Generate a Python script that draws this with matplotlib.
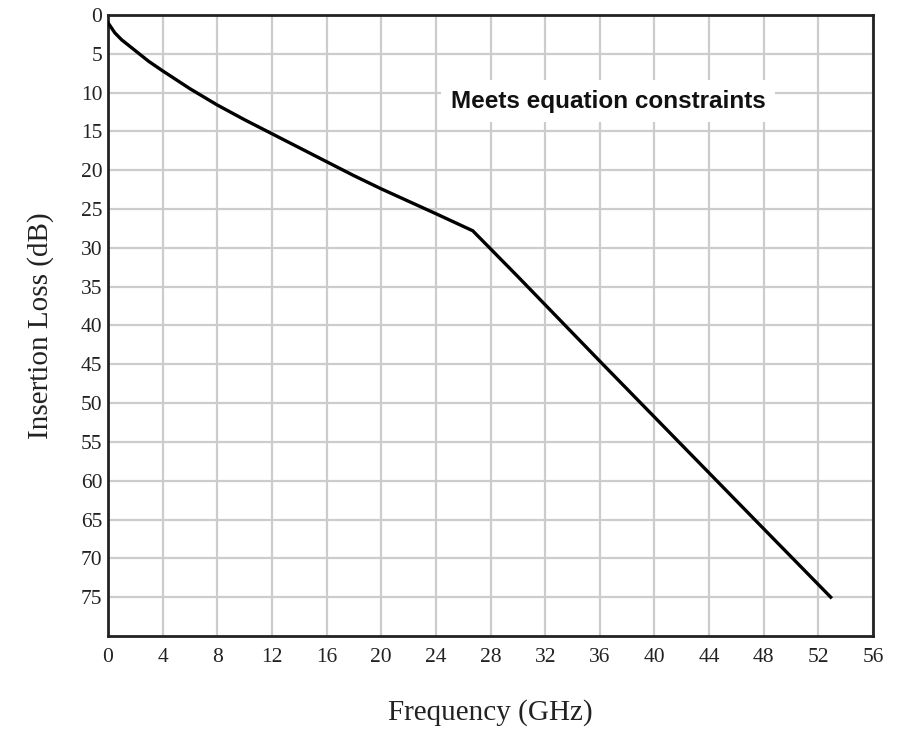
import numpy as np
import matplotlib.pyplot as plt

# frequency (GHz) and insertion loss (dB)
freq = [0, 0.5, 1, 2, 3, 4, 6, 8, 10, 12, 14, 16, 18, 20, 22, 24, 26.7,
        30, 36, 40, 44, 48, 52.9]
loss = [1.0, 2.3, 3.2, 4.6, 6.0, 7.2, 9.5, 11.6, 13.5, 15.3, 17.1, 18.9,
        20.7, 22.4, 24.0, 25.6, 27.8, 33.7, 44.6, 51.8, 59.0, 66.2, 75.0]

x_ticks = np.arange(0, 57, 4)
y_ticks = np.arange(0, 76, 5)

fig = plt.figure(figsize=(9.19, 7.3), dpi=100)
ax = fig.add_axes([0.1175, 0.1288, 0.8325, 0.8507])

ax.plot(freq, loss, color='black', lw=2.4, zorder=3)

ax.set_xlim(0, 56)
ax.set_ylim(80, 0)
ax.set_xticks(x_ticks)
ax.set_yticks(y_ticks)
ax.grid(True, color='#cccccc', lw=1.6, zorder=0)
ax.set_axisbelow(True)
ax.tick_params(axis='x', length=0, pad=9, labelsize=15.5)
ax.tick_params(axis='y', length=0, pad=4, labelsize=15.5)
for lbl in ax.get_xticklabels() + ax.get_yticklabels():
    lbl.set_fontfamily('Liberation Serif')
    lbl.set_color('#222222')
for sp in ax.spines.values():
    sp.set_linewidth(2)
    sp.set_color('#222222')

ax.set_xlabel('Frequency (GHz)', fontfamily='Liberation Serif', fontsize=21,
              labelpad=23, color='#222222')
ax.set_ylabel('Insertion Loss (dB)', fontfamily='Liberation Serif', fontsize=21,
              labelpad=19, color='#222222')

ax.text(36.6, 11.1, 'Meets equation constraints', ha='center', va='center',
        fontfamily='Liberation Sans', fontweight='bold', fontsize=17.5,
        color='#111111',
        bbox=dict(facecolor='white', edgecolor='none', pad=7), zorder=4)

fig.savefig('out.png', dpi=100)
